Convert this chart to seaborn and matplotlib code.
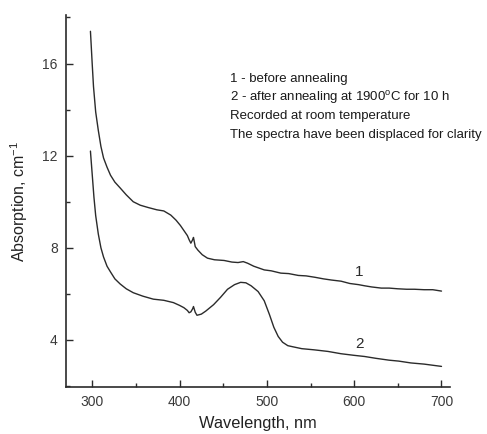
import matplotlib
matplotlib.use("Agg")
import matplotlib.pyplot as plt
import seaborn as sns
import pandas as pd
from matplotlib.ticker import MultipleLocator

# Absorption spectra (cm^-1) vs wavelength (nm)
wl_before = [298, 300, 301.5, 304, 307, 310, 313, 317, 321, 326, 332, 339, 347, 355,
             364, 374, 382, 390, 396, 401, 405, 409, 411, 413, 415, 416, 418, 421,
             426, 432, 440, 451, 460, 467, 473, 478, 485, 491, 497, 505, 516, 525,
             536, 545, 555, 565, 574, 585, 595, 605, 612, 620, 631, 640, 650, 660,
             669, 680, 690, 700]
abs_before = [17.4, 16.0, 15.0, 13.9, 13.1, 12.4, 11.9, 11.5, 11.15, 10.85, 10.6,
              10.3, 10.0, 9.85, 9.75, 9.65, 9.6, 9.42, 9.2, 8.97, 8.75, 8.53, 8.35,
              8.2, 8.35, 8.45, 8.05, 7.9, 7.7, 7.55, 7.48, 7.45, 7.38, 7.36, 7.4,
              7.33, 7.2, 7.12, 7.04, 7.0, 6.9, 6.88, 6.8, 6.78, 6.72, 6.65, 6.6,
              6.55, 6.45, 6.4, 6.35, 6.3, 6.25, 6.25, 6.22, 6.2, 6.2, 6.18, 6.18,
              6.12]

wl_after = [298, 300, 302, 304, 307, 310, 313, 317, 321, 326, 332, 339, 347, 358,
            370, 382, 393, 400, 405, 409, 411, 413, 415, 416, 418, 420, 425, 430,
            439, 447, 455, 463, 470, 476, 482, 490, 497, 503, 508, 513, 518, 524,
            530, 540, 554, 570, 585, 600, 612, 625, 640, 651, 665, 680, 690, 700]
abs_after = [12.2, 11.2, 10.2, 9.4, 8.6, 8.0, 7.6, 7.2, 6.95, 6.65, 6.43, 6.22,
             6.05, 5.9, 5.77, 5.72, 5.62, 5.5, 5.4, 5.28, 5.18, 5.22, 5.35, 5.45,
             5.2, 5.07, 5.12, 5.25, 5.53, 5.85, 6.2, 6.4, 6.5, 6.48, 6.35, 6.1, 5.7,
             5.1, 4.55, 4.15, 3.9, 3.75, 3.7, 3.62, 3.57, 3.5, 3.4, 3.33, 3.28, 3.2,
             3.12, 3.08, 3.0, 2.95, 2.9, 2.85]

notes = ["1 - before annealing",
         "2 - after annealing at 1900$^{\\mathrm{o}}$C for 10 h",
         "Recorded at room temperature",
         "The spectra have been displaced for clarity"]

sns.set_style("ticks")
plt.rcParams["font.family"] = ["Liberation Sans", "DejaVu Sans"]
plt.rcParams["mathtext.fontset"] = "custom"
plt.rcParams["mathtext.rm"] = "Liberation Sans"

df1 = pd.DataFrame({"wl": wl_before, "a": abs_before})
df2 = pd.DataFrame({"wl": wl_after, "a": abs_after})

fig = plt.figure(figsize=(4.87, 4.34), dpi=100)
ax = fig.add_axes([0.1355, 0.108, 0.789, 0.857])

ink = "#2b2b2b"
sns.lineplot(data=df1, x="wl", y="a", ax=ax, color=ink, linewidth=1.0)
sns.lineplot(data=df2, x="wl", y="a", ax=ax, color=ink, linewidth=1.0)

ax.set_xlim(270, 710)
ax.set_ylim(1.95, 18.1)
ax.xaxis.set_major_locator(MultipleLocator(100))
ax.xaxis.set_minor_locator(MultipleLocator(50))
ax.yaxis.set_major_locator(MultipleLocator(4))
ax.yaxis.set_minor_locator(MultipleLocator(2))
ax.set_yticks([4, 8, 12, 16])
ax.tick_params(which="major", direction="in", length=5, width=1.0, colors=ink,
               labelsize=10, labelcolor="#3a3a3a", pad=6)
ax.tick_params(which="minor", direction="in", length=3, width=1.0, colors=ink)

for s in ["top", "right"]:
    ax.spines[s].set_visible(False)
for s in ["left", "bottom"]:
    ax.spines[s].set_linewidth(1.2)
    ax.spines[s].set_color(ink)

ax.set_xlabel("Wavelength, nm", fontsize=11.8, color="#222222", labelpad=5)
ax.set_ylabel("Absorption, cm$^{-1}$", fontsize=11.5, color="#222222", labelpad=9)

ax.text(606, 6.96, "1", fontsize=11, color=ink, ha="center", va="center")
ax.text(606, 3.83, "2", fontsize=11, color=ink, ha="center", va="center")

for i, line in enumerate(notes):
    fig.text(230 / 487, 1 - (79 + 18.7 * i) / 434, line, fontsize=9.5,
             color="#1a1a1a", ha="left", va="center")

fig.savefig("out.png", dpi=100)
